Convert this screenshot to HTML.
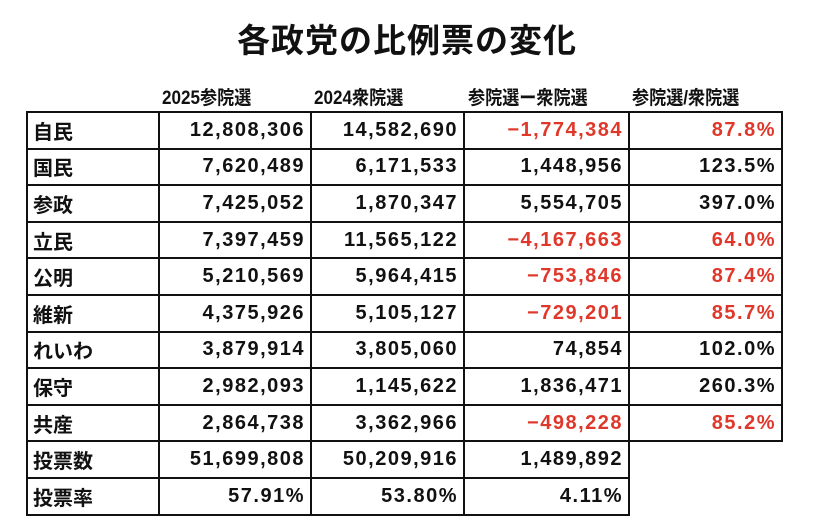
<!DOCTYPE html>
<html><head><meta charset="utf-8"><style>
body{margin:0;background:#fff;width:814px;height:524px;position:relative;overflow:hidden;font-family:"Liberation Sans","Noto Sans CJK JP",sans-serif;color:#111}
.t{position:absolute;left:0;width:814px;top:14px;text-align:center;font-size:33px;font-weight:bold;letter-spacing:1px}
.h{position:absolute;top:83px;font-size:19px;font-weight:bold;transform:scaleX(.9);transform-origin:left}
table{position:absolute;left:26px;top:111px;border-collapse:collapse}
tr{height:36.6px}
td{border:2px solid #111;height:36.6px;padding:0 5px;font-size:20px;font-weight:bold;text-align:right;letter-spacing:1.5px;box-sizing:border-box}
td:first-child{text-align:left;letter-spacing:0}
.r{color:#e0372b}
.n{border:none}
</style></head><body>
<div class="t">各政党の比例票の変化</div>
<div class="h" style="left:162px">2025参院選</div>
<div class="h" style="left:314px">2024衆院選</div>
<div class="h" style="left:468px">参院選ー衆院選</div>
<div class="h" style="left:632px">参院選/衆院選</div>
<table>
<colgroup><col style="width:132px"><col style="width:152px"><col style="width:153px"><col style="width:165px"><col style="width:153px"></colgroup>
<tr><td>自民</td><td>12,808,306</td><td>14,582,690</td><td class="r">−1,774,384</td><td class="r">87.8%</td></tr>
<tr><td>国民</td><td>7,620,489</td><td>6,171,533</td><td>1,448,956</td><td>123.5%</td></tr>
<tr><td>参政</td><td>7,425,052</td><td>1,870,347</td><td>5,554,705</td><td>397.0%</td></tr>
<tr><td>立民</td><td>7,397,459</td><td>11,565,122</td><td class="r">−4,167,663</td><td class="r">64.0%</td></tr>
<tr><td>公明</td><td>5,210,569</td><td>5,964,415</td><td class="r">−753,846</td><td class="r">87.4%</td></tr>
<tr><td>維新</td><td>4,375,926</td><td>5,105,127</td><td class="r">−729,201</td><td class="r">85.7%</td></tr>
<tr><td>れいわ</td><td>3,879,914</td><td>3,805,060</td><td>74,854</td><td>102.0%</td></tr>
<tr><td>保守</td><td>2,982,093</td><td>1,145,622</td><td>1,836,471</td><td>260.3%</td></tr>
<tr><td>共産</td><td>2,864,738</td><td>3,362,966</td><td class="r">−498,228</td><td class="r">85.2%</td></tr>
<tr><td>投票数</td><td>51,699,808</td><td>50,209,916</td><td>1,489,892</td><td class="n"></td></tr>
<tr><td>投票率</td><td>57.91%</td><td>53.80%</td><td>4.11%</td><td class="n"></td></tr>
</table>
</body></html>
